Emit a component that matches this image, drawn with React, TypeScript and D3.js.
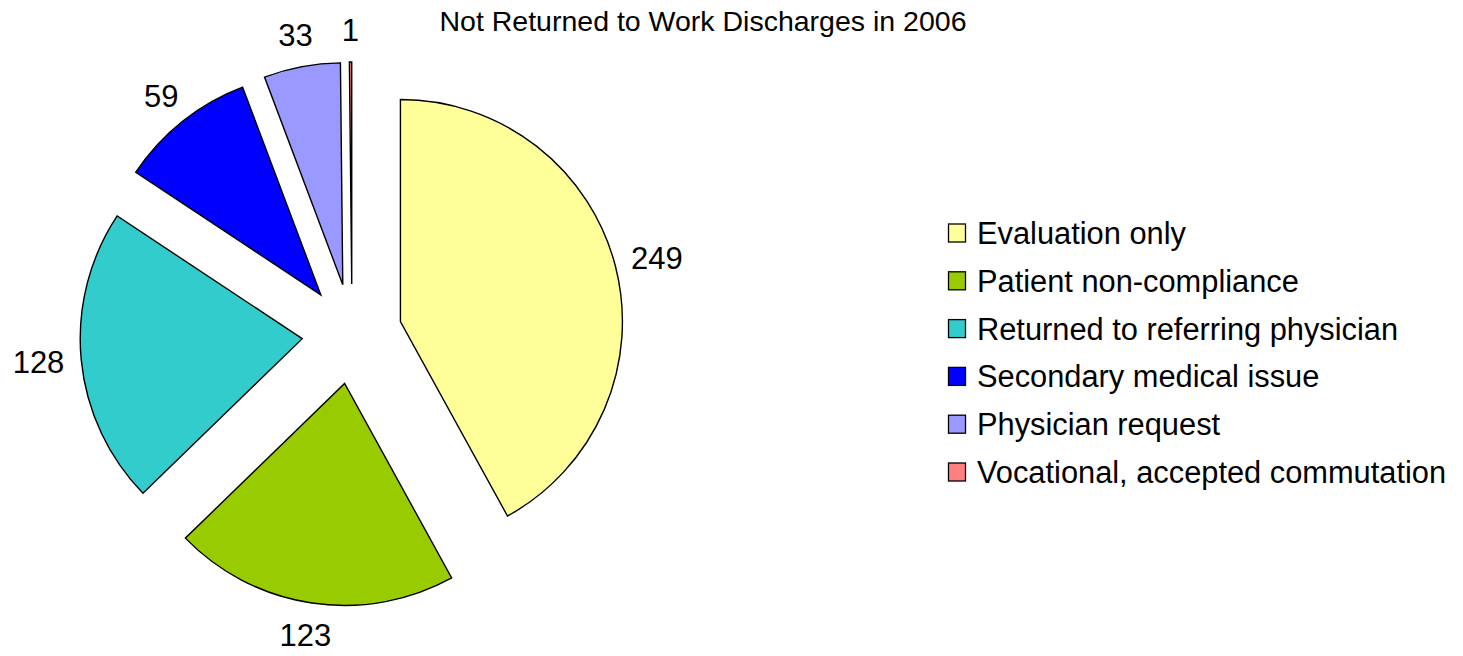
import React from "react";
import * as d3 from "d3";

const categories = [
  "Evaluation only",
  "Patient non-compliance",
  "Returned to referring physician",
  "Secondary medical issue",
  "Physician request",
  "Vocational, accepted commutation",
];
const values = [249, 123, 128, 59, 33, 1];
const colors = ["#FFFF99", "#99CC00", "#33CCCC", "#0000FF", "#9999FF", "#FF8080"];
const title = "Not Returned to Work Discharges in 2006";

const W = 1463;
const H = 656;
const cx = 352;
const cy = 334;
const R = 222;
const explode = 50;
const labelGap = 17;
const labelFont = 31;
const FONT = "'Liberation Sans', Arial, sans-serif";

export default function App() {
  const pie = d3
    .pie<number>()
    .sort(null)
    .startAngle(0)
    .endAngle(2 * Math.PI)
    .value((d) => d);
  const arcs = pie(values);
  const arcGen = d3.arc<d3.PieArcDatum<number>>().innerRadius(0).outerRadius(R);

  return (
    <svg
      width={W}
      height={H}
      style={{ position: "absolute", left: 0, top: 0, background: "#fff", display: "block" }}
    >
      <text x={703} y={31} textAnchor="middle" fontFamily={FONT} fontSize={28.5} fill="#000">
        {title}
      </text>
      <g transform={`translate(${cx},${cy})`}>
        {arcs.map((a, i) => {
          const mid = (a.startAngle + a.endAngle) / 2;
          const dx = Math.sin(mid) * explode;
          const dy = -Math.cos(mid) * explode;
          return (
            <path
              key={i}
              d={arcGen(a) || ""}
              transform={`translate(${dx},${dy})`}
              fill={colors[i]}
              stroke="#000"
              strokeWidth={1.4}
              strokeLinejoin="miter"
            />
          );
        })}
        {arcs.map((a, i) => {
          const mid = (a.startAngle + a.endAngle) / 2;
          const ux = Math.sin(mid);
          const uy = -Math.cos(mid);
          const rr = R + explode + labelGap;
          const txt = String(values[i]);
          const w = txt.length * 0.556 * labelFont;
          const h = labelFont;
          const lx = ux * rr + (ux * w) / 2;
          const ly = uy * rr + (uy * h) / 2;
          return (
            <text
              key={"l" + i}
              x={lx}
              y={ly}
              dy="0.36em"
              textAnchor="middle"
              fontFamily={FONT}
              fontSize={labelFont}
              fill="#000"
            >
              {txt}
            </text>
          );
        })}
      </g>
      <g>
        {categories.map((c, i) => {
          const y = 233 + i * 47.8;
          return (
            <g key={c}>
              <rect x={948.5} y={y - 9} width={17} height={18} fill={colors[i]} stroke="#000" strokeWidth={1.3} />
              <text x={977} y={y} dy="0.36em" fontFamily={FONT} fontSize={30.8} fill="#000">
                {c}
              </text>
            </g>
          );
        })}
      </g>
    </svg>
  );
}
